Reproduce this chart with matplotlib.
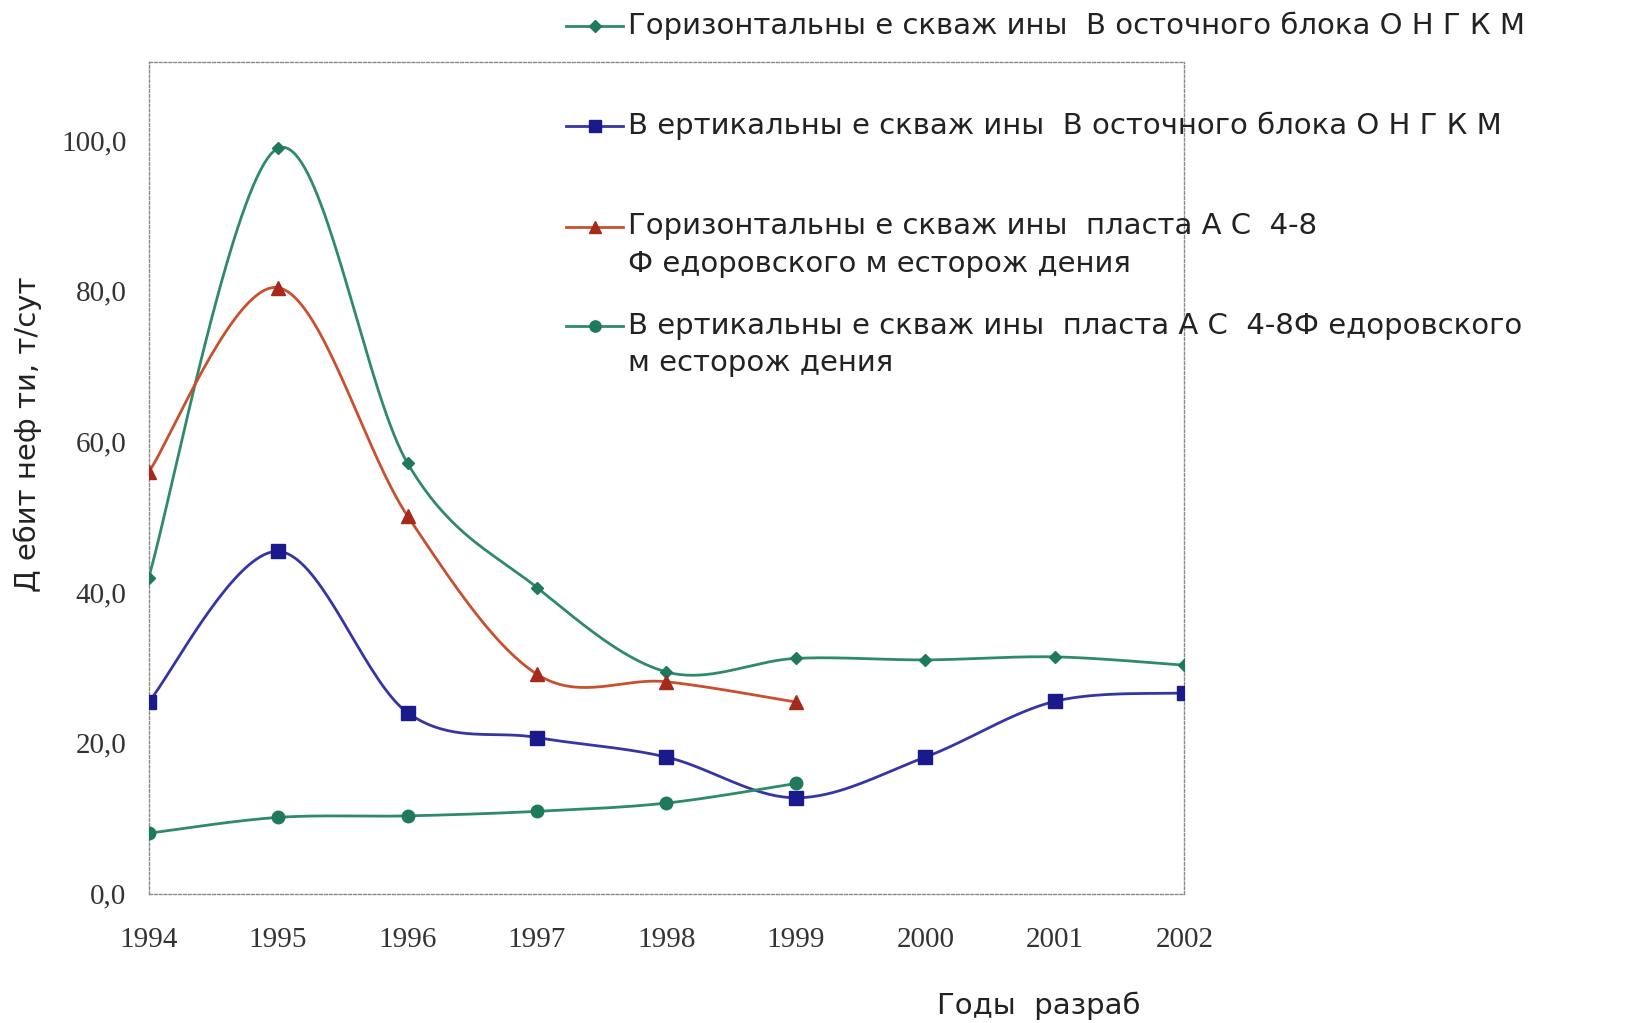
import numpy as np
import matplotlib
matplotlib.use('Agg')
import matplotlib.pyplot as plt
from matplotlib.lines import Line2D

# ---------------- data ----------------
years = [1994, 1995, 1996, 1997, 1998, 1999, 2000, 2001, 2002]
horiz_east = [41.9, 98.9, 57.1, 40.6, 29.4, 31.2, 31.0, 31.4, 30.3]
vert_east = [25.4, 45.4, 24.0, 20.7, 18.1, 12.7, 18.1, 25.5, 26.6]
years_fed = [1994, 1995, 1996, 1997, 1998, 1999]
horiz_fed = [55.9, 80.4, 50.1, 29.1, 28.1, 25.4]
vert_fed = [8.0, 10.1, 10.3, 10.9, 12.0, 14.6]

labels = [
    "Горизонтальны е скваж ины  В осточного блока О Н Г К М",
    "В ертикальны е скваж ины  В осточного блока О Н Г К М",
    "Горизонтальны е скваж ины  пласта А С  4-8\nФ едоровского м есторож дения",
    "В ертикальны е скваж ины  пласта А С  4-8Ф едоровского\nм есторож дения",
]
ytick_vals = [0, 20, 40, 60, 80, 100]
ytick_labels = ["0,0", "20,0", "40,0", "60,0", "80,0", "100,0"]
ylabel = "Д ебит неф ти, т/сут"
xlabel = "Годы  разраб"


def smooth(x, y, n=40):
    """Excel-like smoothed line (Catmull-Rom / Bezier) through the points."""
    p = np.column_stack([x, y]).astype(float)
    pts = np.vstack([p[0], p, p[-1]])
    out = []
    for i in range(1, len(pts) - 2):
        p0, p1, p2, p3 = pts[i - 1], pts[i], pts[i + 1], pts[i + 2]
        b1 = p1 + (p2 - p0) / 6.0
        b2 = p2 - (p3 - p1) / 6.0
        t = np.linspace(0, 1, n)[:, None]
        seg = ((1 - t) ** 3) * p1 + 3 * ((1 - t) ** 2) * t * b1 + 3 * (1 - t) * t ** 2 * b2 + t ** 3 * p2
        out.append(seg if i == 1 else seg[1:])
    c = np.vstack(out)
    return c[:, 0], c[:, 1]


W, H = 1629, 1023
fig = plt.figure(figsize=(W / 100, H / 100), dpi=100)
fig.patch.set_facecolor('white')
ax = fig.add_axes([148.6 / W, 1 - 893.5 / H, (1184.3 - 148.6) / W, (893.5 - 62.3) / H])

series = [
    (years, horiz_east, '#2f8a6c', '#1f7a5c', 'D', 6.5),
    (years, vert_east, '#3535a5', '#1a1a8c', 's', 10),
    (years_fed, horiz_fed, '#c8502e', '#a52a1c', '^', 10),
    (years_fed, vert_fed, '#2f8a6c', '#1f7a5c', 'o', 9),
]

for xs, ys, lc, mc, mk, ms in series:
    sx, sy = smooth(xs, ys)
    ax.plot(sx, sy, color=lc, lw=2.0, zorder=2, solid_capstyle='round')
    ax.plot(xs, ys, linestyle='none', marker=mk, markersize=ms,
            markerfacecolor=mc, markeredgecolor=mc, zorder=3)

ax.set_xlim(1994, 2002)
ax.set_ylim(0, 110.3)
ax.set_xticks(years)
ax.set_xticklabels([str(y) for y in years], fontfamily='Liberation Serif', fontsize=21, color='#333333')
ax.set_yticks(ytick_vals)
ax.set_yticklabels(ytick_labels, fontfamily='Liberation Serif', fontsize=21, color='#333333')
ax.tick_params(axis='both', length=0)
ax.tick_params(axis='x', pad=24)
ax.tick_params(axis='y', pad=16)
for s in ax.spines.values():
    s.set_linestyle((0, (2, 1.5)))
    s.set_color('#8a8a8a')
    s.set_linewidth(1.0)
ax.set_facecolor('white')

# y label
fig.text(28 / W, 1 - 434 / H, ylabel, rotation=90, ha='center', va='center',
         fontsize=21, color='#222222', fontfamily='DejaVu Sans')
# x label
fig.text(1039 / W, 1 - 1006 / H, xlabel, ha='center', va='center',
         fontsize=21, color='#222222', fontfamily='DejaVu Sans')

# legend (drawn to the right of the axes, as in the reference)
leg_y = [25, 125, 225.5, 325]
for (xs, ys, lc, mc, mk, ms), lab, yc in zip(series, labels, leg_y):
    yf = 1 - (yc + 1) / H
    fig.add_artist(Line2D([566 / W, 623 / W], [yf, yf], color=lc, lw=2.0,
                          transform=fig.transFigure))
    fig.add_artist(Line2D([595 / W], [yf], marker=mk, markersize=ms * 0.9,
                          markerfacecolor=mc, markeredgecolor=mc, linestyle='none',
                          transform=fig.transFigure))
    fig.text(628 / W, 1 - (yc - 13) / H, lab, ha='left', va='top', fontsize=21,
             color='#222222', fontfamily='DejaVu Sans', linespacing=1.42)

fig.savefig('out.png', dpi=100, facecolor='white')
